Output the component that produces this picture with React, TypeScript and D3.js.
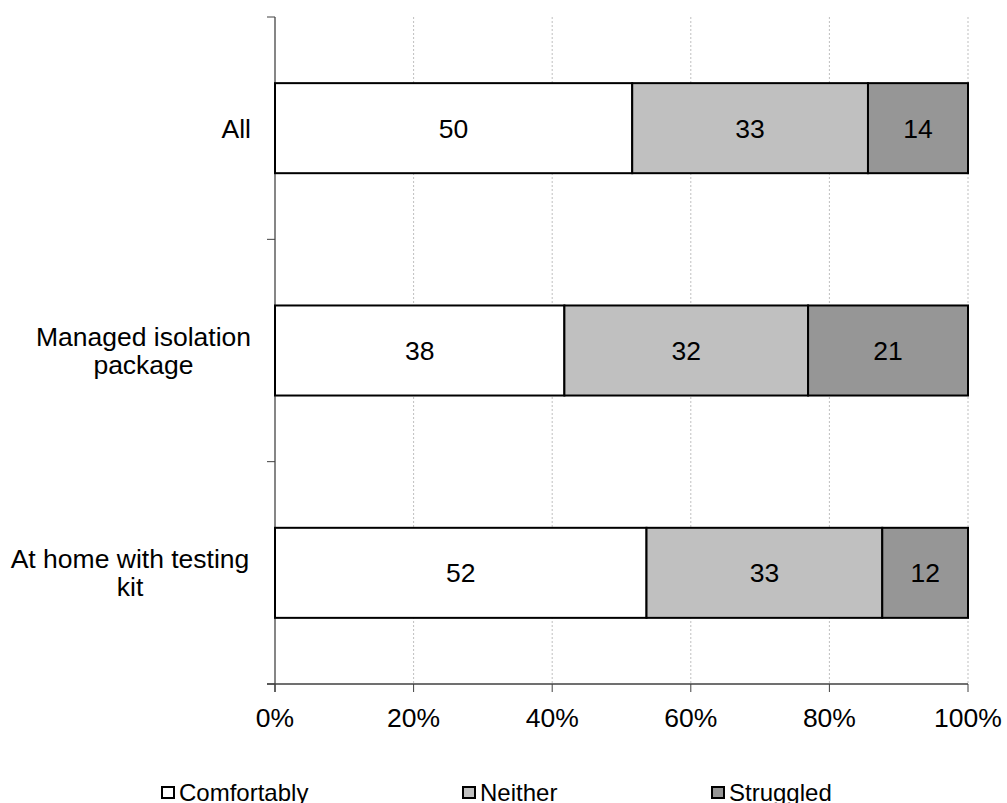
import React from "react";
import * as d3 from "d3";

const categories = ["All", "Managed isolation package", "At home with testing kit"];
const categoryLines = [["All"], ["Managed isolation", "package"], ["At home with testing", "kit"]];
const seriesNames = ["Comfortably", "Neither", "Struggled"];
const comfortably = [50, 38, 52];
const neither = [33, 32, 33];
const struggled = [14, 21, 12];
const xTicks = [0, 0.2, 0.4, 0.6, 0.8, 1];
const colors = ["#FFFFFF", "#C0C0C0", "#969696"];

export default function App() {
  const W = 1007, H = 803;
  const left = 275, right = 968, top = 17, bottom = 684;
  const x = d3.scaleLinear().domain([0, 1]).range([left, right]);
  const y = d3.scaleBand().domain(categories).range([top, bottom]).paddingInner(0.595).paddingOuter(0.2975);
  const rows = categories.map((c, i) => {
    const vals = [comfortably[i], neither[i], struggled[i]];
    const total = d3.sum(vals);
    let acc = 0;
    return vals.map((v, k) => {
      const s = { cat: c, k, v, x0: acc / total, x1: (acc + v) / total };
      acc += v;
      return s;
    });
  });
  const legendX = [162, 463, 712];
  const font = "Arial, 'Liberation Sans', sans-serif";
  const fs = 26.5;
  return (
    <svg width={W} height={H} style={{ position: "absolute", left: 0, top: 0, background: "#fff" }}>
      {xTicks.slice(1).map((t) => (
        <line key={"g" + t} x1={x(t)} x2={x(t)} y1={top} y2={bottom} stroke="#BFBFBF" strokeWidth={1} strokeDasharray="2,2" />
      ))}
      <line x1={left} x2={left} y1={top} y2={bottom + 8} stroke="#868686" strokeWidth={2} />
      {[0, 1, 2, 3].map((i) => {
        const yy = top + ((bottom - top) * i) / 3;
        return <line key={"yt" + i} x1={left - 8} x2={left} y1={yy} y2={yy} stroke="#404040" strokeWidth={1} />;
      })}
      <line x1={left - 8} x2={right} y1={bottom} y2={bottom} stroke="#404040" strokeWidth={1.5} />
      {xTicks.map((t) => (
        <g key={"xt" + t}>
          <line x1={x(t)} x2={x(t)} y1={bottom} y2={bottom + 8} stroke="#404040" strokeWidth={1} />
          <text x={x(t)} y={727} textAnchor="middle" fontFamily={font} fontSize={fs} fill="#000">
            {Math.round(t * 100) + "%"}
          </text>
        </g>
      ))}
      {rows.map((segs, i) => (
        <g key={"r" + i}>
          {segs.map((s) => (
            <g key={s.k}>
              <rect x={x(s.x0)} y={y(s.cat)!} width={x(s.x1) - x(s.x0)} height={y.bandwidth()} fill={colors[s.k]} stroke="#000" strokeWidth={2} />
              <text x={(x(s.x0) + x(s.x1)) / 2} y={y(s.cat)! + y.bandwidth() / 2 + 9.5} textAnchor="middle" fontFamily={font} fontSize={fs} fill="#000">
                {s.v}
              </text>
            </g>
          ))}
        </g>
      ))}
      {categoryLines.map((lines, i) => {
        const cy = y(categories[i])! + y.bandwidth() / 2;
        const lh = 28;
        const startY = cy - ((lines.length - 1) * lh) / 2 + 9.5;
        return (
          <text key={"c" + i} fontFamily={font} fontSize={fs} fill="#000" textAnchor={lines.length > 1 ? "middle" : "end"}>
            {lines.map((l, j) => (
              <tspan key={j} x={lines.length > 1 ? (i === 1 ? 143.5 : 130) : 251} y={startY + j * lh}>
                {l}
              </tspan>
            ))}
          </text>
        );
      })}
      {seriesNames.map((n, k) => (
        <g key={"l" + n}>
          <rect x={legendX[k]} y={787} width={12} height={11} fill={colors[k]} stroke="#000" strokeWidth={2} />
          <text x={legendX[k] + 17} y={801} fontFamily={font} fontSize={24} fill="#000">
            {n}
          </text>
        </g>
      ))}
    </svg>
  );
}
